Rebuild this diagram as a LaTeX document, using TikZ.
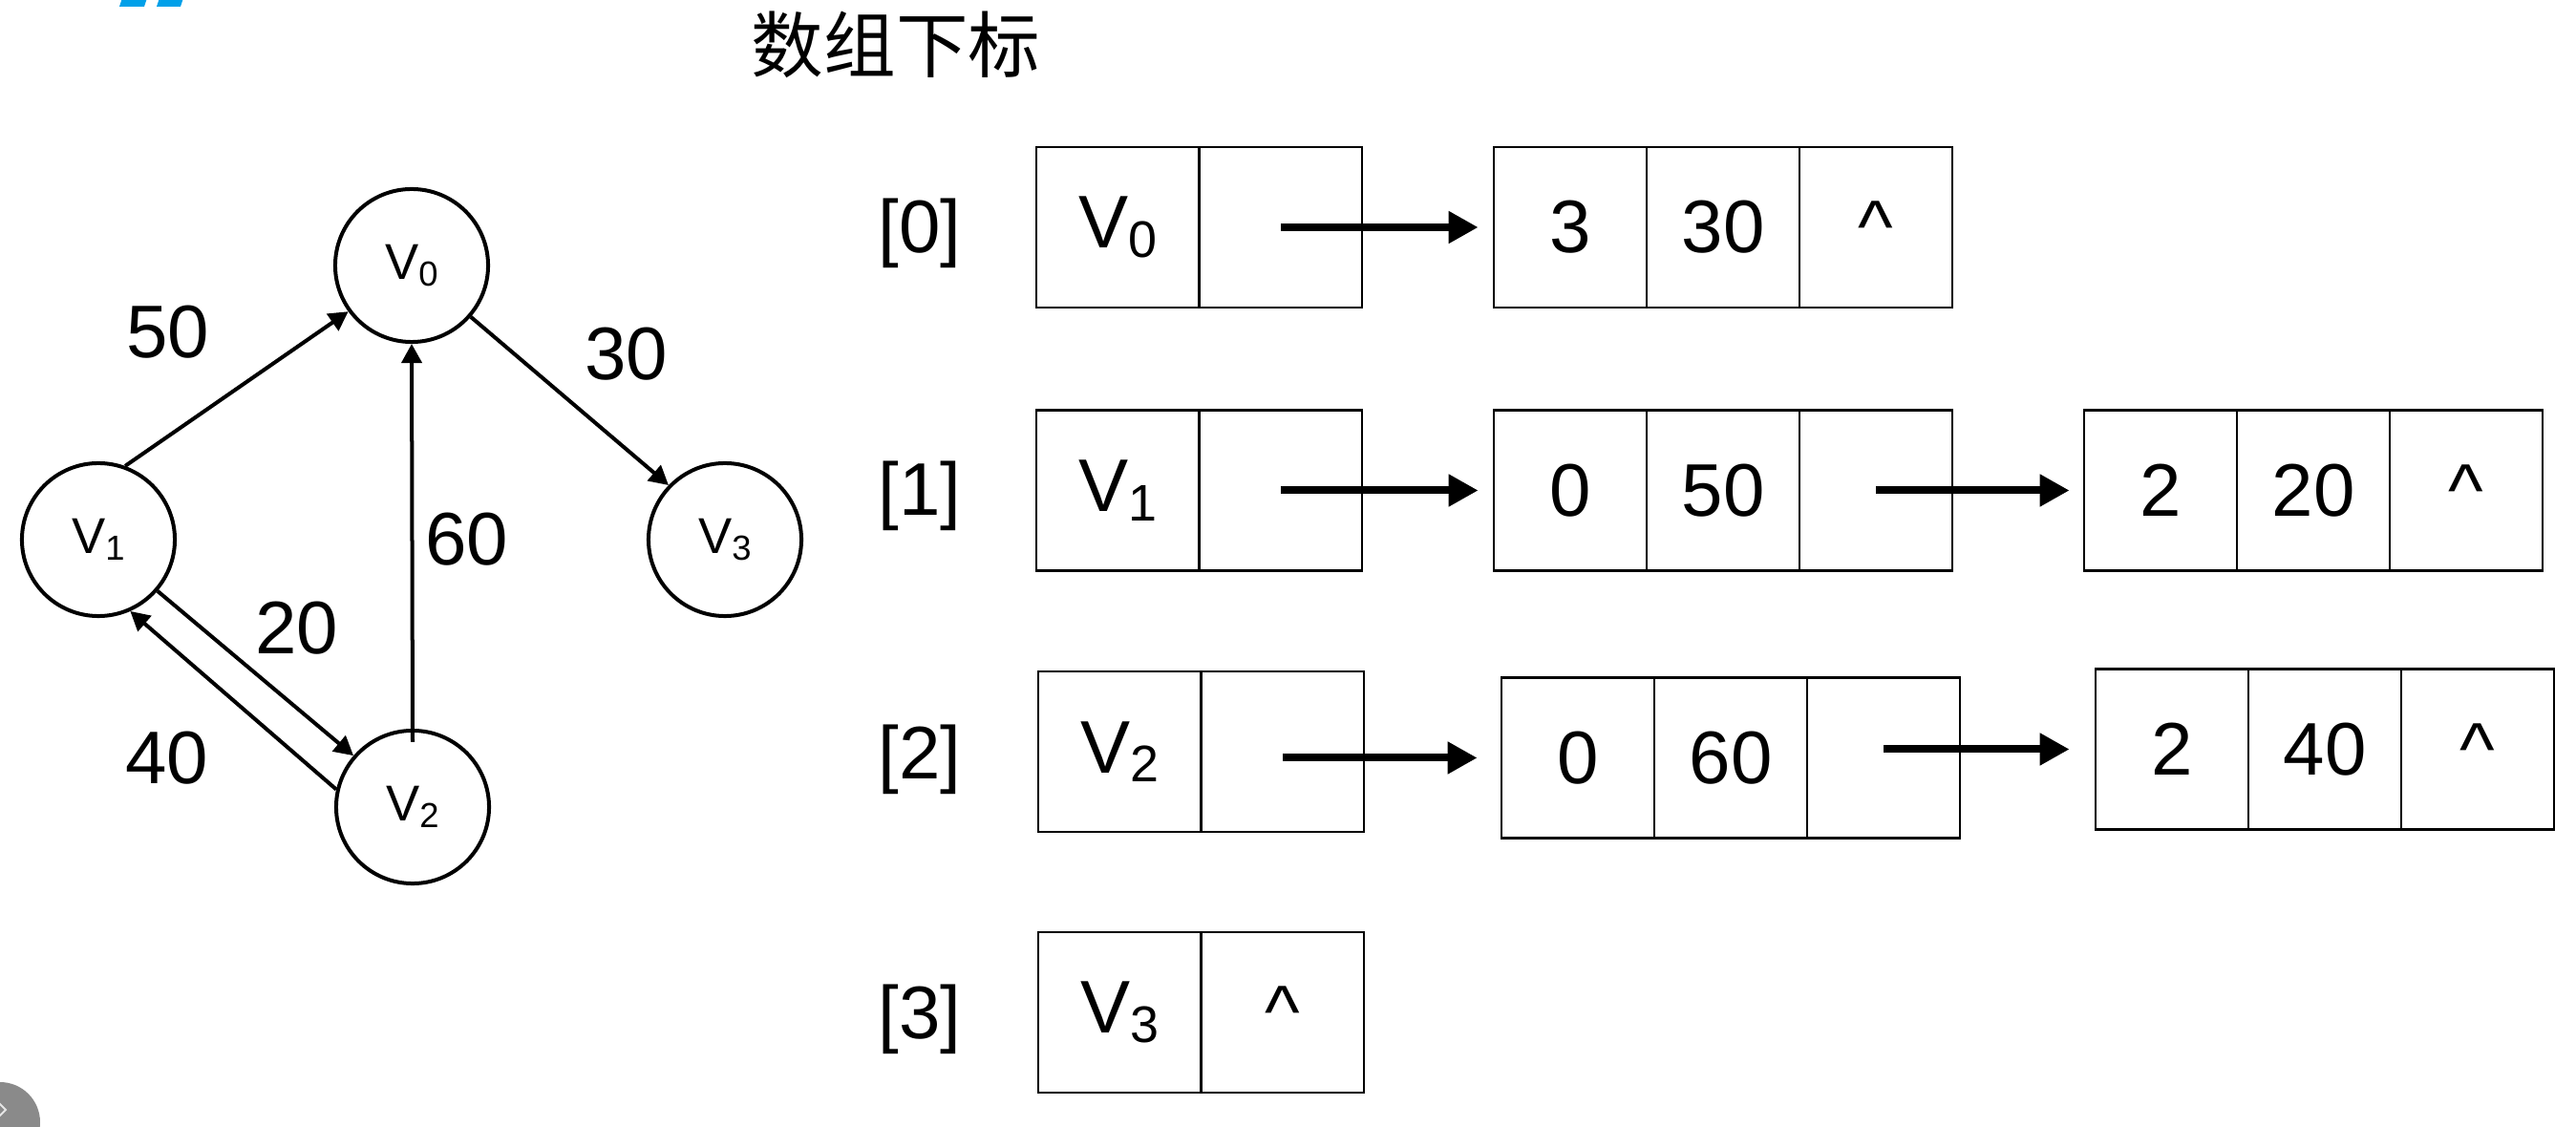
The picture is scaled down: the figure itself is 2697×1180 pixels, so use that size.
\documentclass[tikz,border=0pt]{standalone}
\usepackage{fontspec}
\setmainfont{Liberation Sans}
\newfontfamily\cjk{Noto Sans CJK SC}
\usetikzlibrary{arrows.meta,calc}
\definecolor{markblue}{HTML}{00A0E9}
\definecolor{btngray}{HTML}{8A8A8A}
\newcommand{\Vs}[1]{V\raisebox{-0.12em}{\scalebox{0.69}{#1}}}
\begin{document}
\begin{tikzpicture}[x=0.01cm,y=-0.01cm,
  big/.style={font=\fontsize{22.2pt}{26pt}\selectfont},
  cell/.style={draw, line width=0.75pt, minimum height=1.68cm, inner sep=0pt, big},
  hcell/.style={cell, minimum width=1.705cm},
  ncell/.style={cell, minimum width=1.6cm},
  ptr/.style={line width=0.08cm, -{Triangle[length=0.31cm,width=0.32cm]}},
  vert/.style={circle, draw, line width=0.04cm, minimum size=1.6cm, inner sep=0pt, font=\fontsize{15pt}{18pt}\selectfont},
  gedge/.style={line width=0.04cm, -{Triangle[length=0.2cm,width=0.21cm]}},
  wt/.style={big, anchor=base},
  idx/.style={big, anchor=base}
]
\useasboundingbox (0,0) rectangle (2697,1180);

% decorations at the edges
\fill[markblue] (129,-5) -- (155,-5) -- (151,7) -- (125,7) -- cycle;
\fill[markblue] (168,-5) -- (193,-5) -- (189,7) -- (164,7) -- cycle;
\fill[btngray] (0,1175) circle (42);
\draw[white!80!gray, line width=0.6pt] (-2,1154) -- (6,1162) -- (-2,1170);

% title
\node[font=\cjk\fontsize{21.5pt}{24pt}\selectfont] (title) at (938,47) {数组下标};

% graph
\node[vert] (v0) at (431,278) {\Vs{0}};
\node[vert] (v1) at (103,565) {\Vs{1}};
\node[vert] (v3) at (759,565) {\Vs{3}};
\node[vert] (v2) at (432,845) {\Vs{2}};

\draw[gedge] (v1.70) -- (v0.216);
\draw[gedge] (v0.319) -- (v3.136);
\draw[gedge] ($(v2.north)+(0,14)$) -- (v0.south);
\draw[gedge] (v1.-41) -- (v2.139);
\draw[gedge] (v2.167) -- (v1.-66);

\node[wt] (w50) at (176,375) {50};
\node[wt] (w30) at (656,398) {30};
\node[wt] (w60) at (489,592) {60};
\node[wt] (w20) at (311,685) {20};
\node[wt] (w40) at (175,821) {40};

% index labels
\node[idx] (i0) at (963,265) {[0]};
\node[idx] (i1) at (963,540) {[1]};
\node[idx] (i2) at (963,816) {[2]};
\node[idx] (i3) at (963,1087) {[3]};

% row 0
\node[hcell] (h0a) at (1170.25,238) {\Vs{0}};
\node[hcell] (h0b) at (1340.75,238) {};
\node[ncell] (n00a) at (1644,238) {3};
\node[ncell] (n00b) at (1804,238) {30};
\node[ncell] (n00c) at (1964,238) {\^{}};
\draw[ptr, shorten >=0.15cm] (h0b.center) -- (n00a.west);

% row 1
\node[hcell] (h1a) at (1170.25,513.5) {\Vs{1}};
\node[hcell] (h1b) at (1340.75,513.5) {};
\node[ncell] (n10a) at (1644,513.5) {0};
\node[ncell] (n10b) at (1804,513.5) {50};
\node[ncell] (n10c) at (1964,513.5) {};
\node[ncell] (n11a) at (2262,513.5) {2};
\node[ncell] (n11b) at (2422,513.5) {20};
\node[ncell] (n11c) at (2582,513.5) {\^{}};
\draw[ptr, shorten >=0.15cm] (h1b.center) -- (n10a.west);
\draw[ptr, shorten >=0.14cm] (n10c.center) -- (n11a.west);

% row 2
\node[hcell] (h2a) at (1172.25,787) {\Vs{2}};
\node[hcell] (h2b) at (1342.75,787) {};
\node[ncell] (n20a) at (1652,793.5) {0};
\node[ncell] (n20b) at (1812,793.5) {60};
\node[ncell] (n20c) at (1972,793.5) {};
\node[ncell] (n21a) at (2274,784.5) {2};
\node[ncell] (n21b) at (2434,784.5) {40};
\node[ncell] (n21c) at (2594,784.5) {\^{}};
\draw[ptr, shorten >=0.24cm] (h2b.center |- n20a.west) -- (n20a.west);
\draw[ptr, shorten >=0.26cm] (n20c.center |- n21a.west) -- (n21a.west);

% row 3
\node[hcell] (h3a) at (1172.25,1060) {\Vs{3}};
\node[hcell] (h3b) at (1342.75,1060) {\^{}};
\end{tikzpicture}
\end{document}
